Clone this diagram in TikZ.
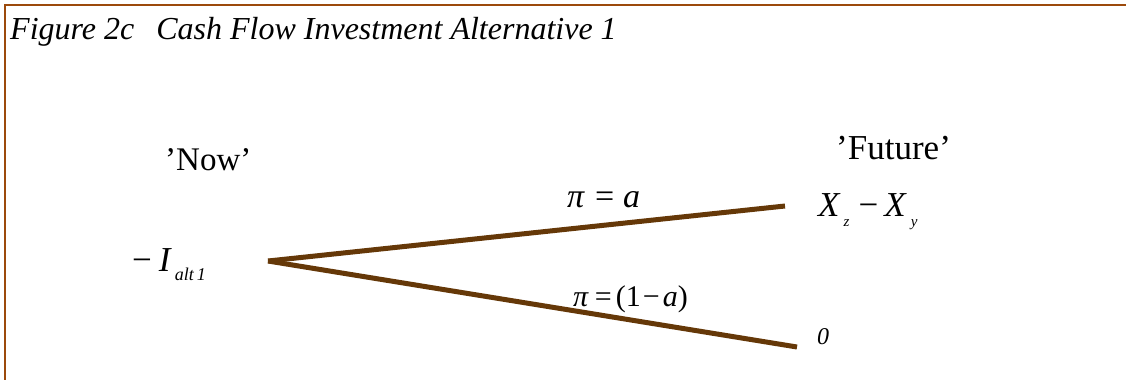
\documentclass[tikz,border=0pt]{standalone}
\usepackage{fontspec}
\setmainfont{Liberation Serif}
\definecolor{branchbrown}{RGB}{101,56,8}
\definecolor{framebrown}{RGB}{156,74,12}
\newcommand{\sub}[1]{\raisebox{-10pt}{\fontsize{15}{15}\selectfont\textit{#1}}}
\tikzset{
  branch/.style={draw=branchbrown, line width=5pt},
  lbl/.style={anchor=base west, inner sep=0pt, font=\fontsize{33}{36}\selectfont},
}
\begin{document}
\begin{tikzpicture}[x=1pt,y=-1pt]
    \useasboundingbox (0,0) rectangle (1126,380);
    \draw[framebrown, line width=2.5pt] (1126,5) -- (5,5) -- (5,380);
    \node[lbl, font=\fontsize{32}{36}\selectfont\itshape] (title) at (10,39) {Figure 2c\hspace{22pt}Cash Flow Investment Alternative 1};
    % tree
    \coordinate (root) at (268,261);
    \coordinate (up) at (785,206);
    \coordinate (down) at (797,347);
    \draw[branch] (root) -- (up);
    \draw[branch] (root) -- (down);
    \node[lbl] (now) at (165,170) {’Now’};
    \node[lbl, font=\fontsize{35}{38}\selectfont] (future) at (836,159) {’Future’};
    \node[lbl, font=\fontsize{35}{38}\selectfont] (inv) at (132,271) {−\hspace{7pt}\textit{I}\hspace{3pt}\raisebox{-9pt}{\fontsize{18}{18}\selectfont\textit{alt\,1}}};
    \node[lbl, font=\fontsize{34}{38}\selectfont] (upprob) at (567,207) {\textit{π}\hspace{10pt}=\hspace{9pt}\textit{a}};
    \node[lbl, font=\fontsize{30}{32}\selectfont] (downprob) at (573,306) {\textit{π}\hspace{6pt}=\hspace{4pt}(1\hspace{2pt}−\hspace{3pt}\textit{a})};
    \node[lbl, font=\fontsize{35}{38}\selectfont] (upval) at (818,216) {\textit{X}\hspace{3pt}\sub{z}\hspace{9pt}−\hspace{6pt}\textit{X}\hspace{4pt}\sub{y}};
    \node[lbl, font=\fontsize{24}{26}\selectfont\itshape] (downval) at (817,344) {0};
\end{tikzpicture}
\end{document}
